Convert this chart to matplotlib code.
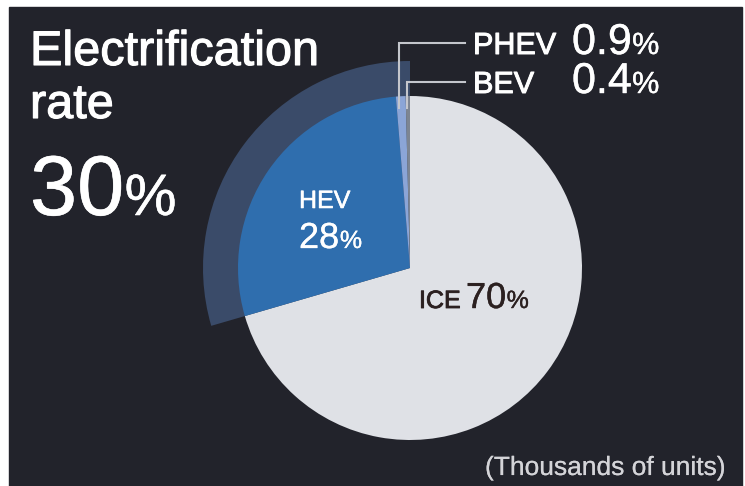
import numpy as np
import matplotlib
matplotlib.use("Agg")
import matplotlib.pyplot as plt
from matplotlib.patches import Rectangle
import matplotlib.patheffects as pe

plt.rcParams['font.family'] = ['Liberation Sans', 'DejaVu Sans']

# data (share of units, %)
labels = ['ICE', 'HEV', 'PHEV', 'BEV']
shares = [70, 28, 0.9, 0.4]
colors = ['#dfe1e6', '#2f6eae', '#8ba5d7', '#7d8592']
electrification_rate = 30

W, H = 745, 486
fig = plt.figure(figsize=(W / 100, H / 100), dpi=100)
fig.patch.set_facecolor('white')
ax = fig.add_axes([0, 0, 1, 1])

# dark panel
ax.add_patch(Rectangle((9, 0), 733, H - 7, color='#22232b', zorder=0))

cx, cy, r = 410, H - 268, 172

# translucent band behind the electrified slices
ax.pie([shares[0], sum(shares[1:])], colors=['none', '#3a4b69'], radius=207,
       center=(cx, cy), startangle=90, counterclock=False,
       wedgeprops=dict(linewidth=0), frame=True)
wedges, _ = ax.pie(shares, colors=colors, radius=r, center=(cx, cy),
                   startangle=90, counterclock=False,
                   wedgeprops=dict(linewidth=0), frame=True)

ax.set_xlim(0, W)
ax.set_ylim(0, H)
ax.set_aspect('equal')
ax.axis('off')

renderer = fig.canvas.get_renderer()


def label(x, y, s, size, color='white', stroke=0.5):
    # thin stroke to mimic the medium-weight face of the original
    return ax.text(x, y, s, fontsize=size, color=color, va='baseline',
                   path_effects=[pe.withStroke(linewidth=stroke, foreground=color)])


def num_pct(x, y, num, size, pct_size, color='white', gap=0.5, stroke=0.3):
    t = label(x, y, num, size, color, stroke)
    bb = t.get_window_extent(renderer)
    x2 = ax.transData.inverted().transform((bb.x1, 0))[0]
    label(x2 + gap, y, '%', pct_size, color, stroke)


# title block
label(30, H - 65, 'Electrification', 35, stroke=0.8)
label(30, H - 118, 'rate', 35, stroke=0.8)
num_pct(30, H - 215, str(electrification_rate), 61, 42, stroke=0.4)

# slice labels inside the pie
label(299, H - 208, labels[1], 18, stroke=0.4)
num_pct(299, H - 248, f'{shares[1]:g}', 26, 18, stroke=0.2)
label(419, H - 308, labels[0], 18, color='#2b2020', stroke=0.6)
num_pct(466, H - 308, f'{shares[0]:g}', 26, 18, color='#2b2020', stroke=0.3)

# leader lines for the thin slices
line_y = [H - 43, H - 82]
for w, ly, lab, val in zip(wedges[2:], line_y, labels[2:], shares[2:]):
    ang = np.radians(w.theta1 + 0.8 * (w.theta2 - w.theta1))
    lx = cx + 160 * np.cos(ang)
    ly0 = cy + 160 * np.sin(ang)
    ax.plot([lx, lx, 465], [ly0, ly, ly], color='#c4c6cc', lw=1.5,
            solid_joinstyle='miter', zorder=5)
    label(473, ly - 11, lab, 22, stroke=0.7)
    num_pct(572, ly - 11, f'{val:g}', 31, 22, stroke=0.3)

label(485, H - 475, '(Thousands of units)', 19, color='#d4d4d8', stroke=0.1)

fig.savefig('out.png', dpi=100)
